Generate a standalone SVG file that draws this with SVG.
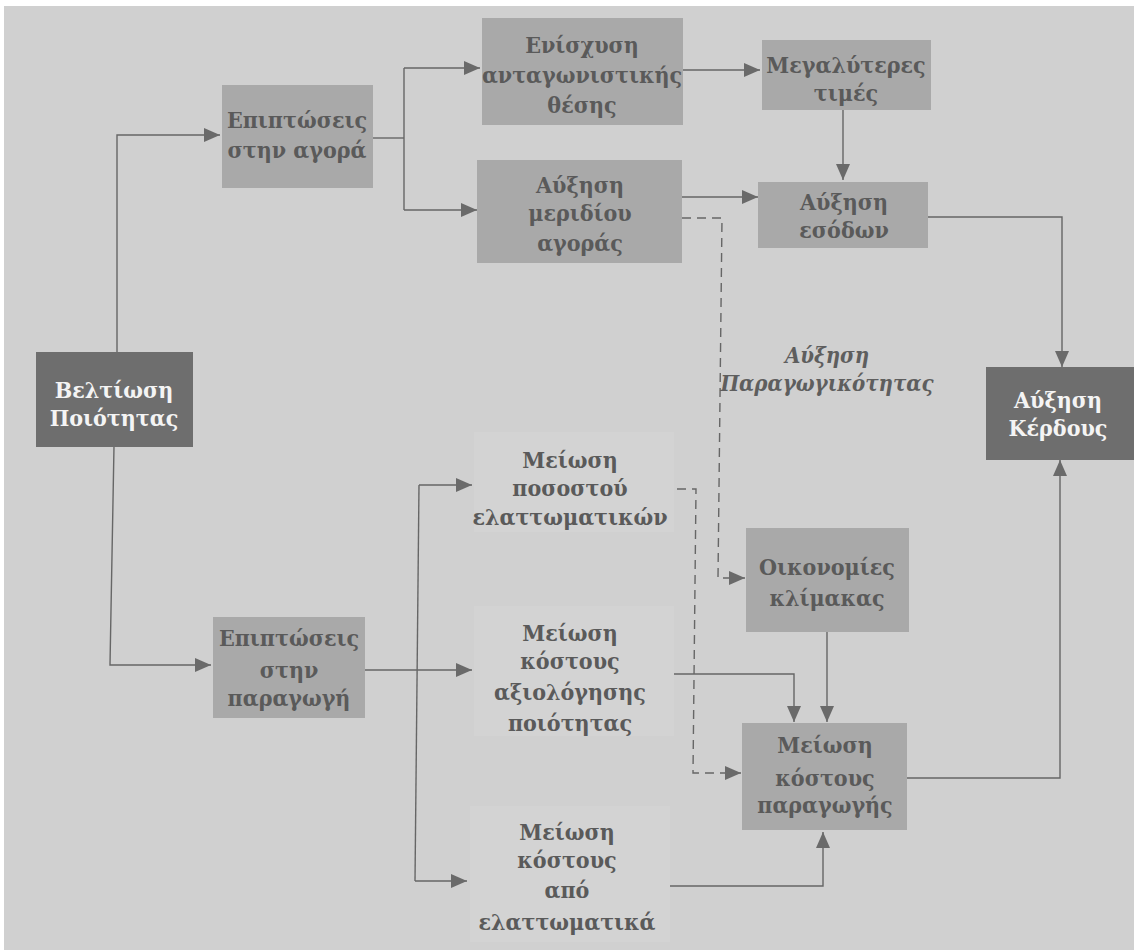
<svg xmlns="http://www.w3.org/2000/svg" width="1134" height="950" viewBox="0 0 1134 950">
<style>
.bg{fill:#d0d0d0}
.mid{fill:#a9a9a9}
.dark{fill:#6e6e6e}
.light{fill:#d3d3d3}
text{font-family:"DejaVu Serif Condensed","DejaVu Serif",serif;font-stretch:condensed;font-size:23px;font-weight:bold;text-anchor:middle;fill:#5a5a5a}
.wt{fill:#f4f4f4}
.it{font-style:italic;font-size:22px;fill:#5e5e5e}
.c{fill:none;stroke:#666;stroke-width:1.4}
.d{stroke-dasharray:9,6}
</style>
<defs>
<marker id="a" markerUnits="userSpaceOnUse" markerWidth="16" markerHeight="14" refX="16" refY="7" orient="auto">
<path d="M0,0 L16,7 L0,14 z" fill="#6a6a6a"/>
</marker>
</defs>
<rect width="1134" height="950" fill="#ffffff"/>
<rect x="4" y="6" width="1130" height="944" class="bg"/>

<g id="connectors">
<polyline class="c" points="117,352 117,135 220,135" marker-end="url(#a)"/>
<polyline class="c" points="114,446 110,665 211,665" marker-end="url(#a)"/>
<polyline class="c" points="373,138 404,138"/>
<polyline class="c" points="404,68 404,210"/>
<polyline class="c" points="404,68 480,68" marker-end="url(#a)"/>
<polyline class="c" points="404,210 477,210" marker-end="url(#a)"/>
<polyline class="c" points="683,70 760,70" marker-end="url(#a)"/>
<polyline class="c" points="843,110 843,180" marker-end="url(#a)"/>
<polyline class="c" points="682,197 758,197" marker-end="url(#a)"/>
<polyline class="c" points="928,217 1062,217 1062,367" marker-end="url(#a)"/>
<polyline class="c d" points="682,218 722,218 718,578 745,578" marker-end="url(#a)"/>
<polyline class="c d" points="677,489 696,489 693,773 741,773" marker-end="url(#a)"/>
<polyline class="c" points="365,670 472,670" marker-end="url(#a)"/>
<polyline class="c" points="419,485 415,881"/>
<polyline class="c" points="419,485 472,485" marker-end="url(#a)"/>
<polyline class="c" points="415,881 467,881" marker-end="url(#a)"/>
<polyline class="c" points="672,674 794,674 794,722" marker-end="url(#a)"/>
<polyline class="c" points="827,632 827,722" marker-end="url(#a)"/>
<polyline class="c" points="667,886 823,886 823,832" marker-end="url(#a)"/>
<polyline class="c" points="907,778 1060,778 1060,460" marker-end="url(#a)"/>
</g>

<g id="n-veltiosi">
<rect x="36" y="352" width="157" height="95" class="dark"/>
<text class="wt" x="114" y="398">Βελτίωση</text>
<text class="wt" x="114" y="426">Ποιότητας</text>
</g>
<g id="n-epiptoseis-agora">
<rect x="222" y="85" width="151" height="103" class="mid"/>
<text x="297" y="128">Επιπτώσεις</text>
<text x="297" y="158">στην αγορά</text>
</g>
<g id="n-enisxysi">
<rect x="482" y="18" width="201" height="107" class="mid"/>
<text x="582" y="53">Ενίσχυση</text>
<text x="582" y="83">ανταγωνιστικής</text>
<text x="582" y="113">θέσης</text>
</g>
<g id="n-meridio">
<rect x="477" y="160" width="205" height="103" class="mid"/>
<text x="580" y="193">Αύξηση</text>
<text x="580" y="221">μεριδίου</text>
<text x="580" y="251">αγοράς</text>
</g>
<g id="n-times">
<rect x="762" y="40" width="169" height="70" class="mid"/>
<text x="846" y="73">Μεγαλύτερες</text>
<text x="846" y="101">τιμές</text>
</g>
<g id="n-esoda">
<rect x="758" y="182" width="170" height="66" class="mid"/>
<text x="844" y="210">Αύξηση</text>
<text x="844" y="238">εσόδων</text>
</g>
<g id="n-kerdos">
<rect x="986" y="367" width="148" height="93" class="dark"/>
<text class="wt" x="1058" y="408">Αύξηση</text>
<text class="wt" x="1058" y="436">Κέρδους</text>
</g>
<g id="n-paragogikotita">
<text class="it" x="827" y="363">Αύξηση</text>
<text class="it" x="827" y="391">Παραγωγικότητας</text>
</g>
<g id="n-epiptoseis-paragogi">
<rect x="213" y="617" width="152" height="101" class="mid"/>
<text x="289" y="646">Επιπτώσεις</text>
<text x="289" y="678">στην</text>
<text x="289" y="706">παραγωγή</text>
</g>
<g id="n-pososto">
<rect x="474" y="432" width="200" height="100" class="light"/>
<text x="570" y="468">Μείωση</text>
<text x="570" y="496">ποσοστού</text>
<text x="570" y="525">ελαττωματικών</text>
</g>
<g id="n-axiologisi">
<rect x="474" y="606" width="200" height="130" class="light"/>
<text x="570" y="641">Μείωση</text>
<text x="570" y="669">κόστους</text>
<text x="570" y="700">αξιολόγησης</text>
<text x="570" y="731">ποιότητας</text>
</g>
<g id="n-oikonomies">
<rect x="746" y="528" width="163" height="104" class="mid"/>
<text x="827" y="575">Οικονομίες</text>
<text x="827" y="606">κλίμακας</text>
</g>
<g id="n-kostos-paragogis">
<rect x="742" y="723" width="165" height="107" class="mid"/>
<text x="825" y="753">Μείωση</text>
<text x="825" y="786">κόστους</text>
<text x="825" y="813">παραγωγής</text>
</g>
<g id="n-elattomatika">
<rect x="470" y="806" width="200" height="136" class="light"/>
<text x="567" y="840">Μείωση</text>
<text x="567" y="868">κόστους</text>
<text x="567" y="898">από</text>
<text x="567" y="930">ελαττωματικά</text>
</g>
</svg>
